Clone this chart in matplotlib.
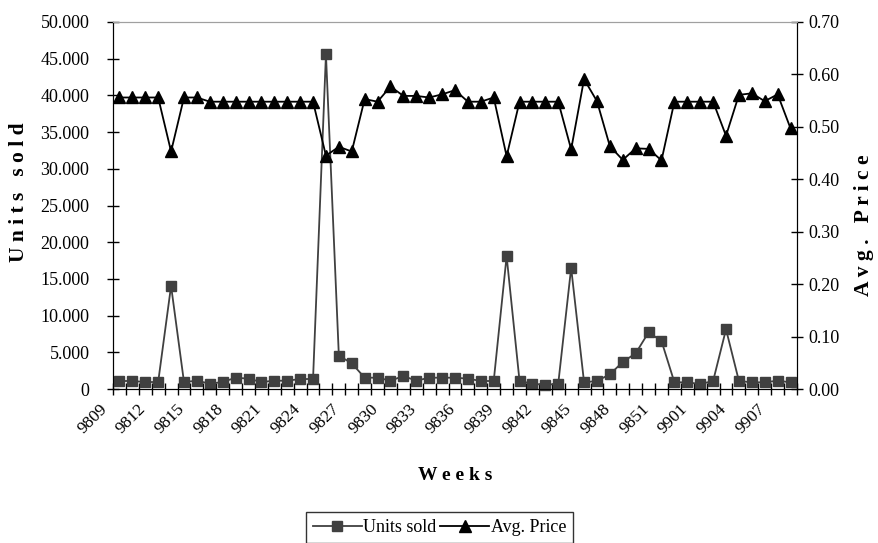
import matplotlib
matplotlib.use('Agg')
import matplotlib.pyplot as mpl
import matplotlib.transforms as mtransforms
from matplotlib.ticker import FuncFormatter, FixedLocator
import numpy

weeks = ['9809', '9810', '9811', '9812', '9813', '9814', '9815', '9816', '9817', '9818',
         '9819', '9820', '9821', '9822', '9823', '9824', '9825', '9826', '9827', '9828',
         '9829', '9830', '9831', '9832', '9833', '9834', '9835', '9836', '9837', '9838',
         '9839', '9840', '9841', '9842', '9843', '9844', '9845', '9846', '9847', '9848',
         '9849', '9850', '9851', '9852', '9853', '9901', '9902', '9903', '9904', '9905',
         '9906', '9907', '9908']

units_sold = [1090, 1090, 950, 950, 14050, 950, 1130, 730, 950, 1540,
              1410, 950, 1130, 1130, 1360, 1360, 45600, 4540, 3500, 1540,
              1540, 1130, 1770, 1130, 1540, 1540, 1540, 1410, 1090, 1090,
              18100, 1090, 730, 545, 730, 16500, 910, 1090, 2000, 3680,
              4860, 7720, 6540, 910, 910, 680, 1090, 8130, 1090, 910,
              910, 1130, 910]

avg_price = [0.556, 0.556, 0.556, 0.556, 0.453, 0.556, 0.556, 0.548, 0.548, 0.548,
             0.548, 0.548, 0.548, 0.548, 0.548, 0.548, 0.445, 0.462, 0.453, 0.553,
             0.548, 0.577, 0.559, 0.559, 0.556, 0.562, 0.570, 0.548, 0.548, 0.556,
             0.444, 0.548, 0.548, 0.548, 0.548, 0.457, 0.591, 0.549, 0.463, 0.437,
             0.459, 0.458, 0.436, 0.548, 0.548, 0.548, 0.548, 0.483, 0.561, 0.564,
             0.549, 0.562, 0.497]

label_step = 3

mpl.rcParams['font.family'] = ['Liberation Serif', 'DejaVu Serif']
mpl.rcParams['font.size'] = 13


def thousands_dot(v, pos):
    if v == 0:
        return '0'
    return '{:,.0f}'.format(v).replace(',', '.')


def style_crossing_ticks(ax, pad):
    ax.tick_params(axis='y', which='major', direction='inout', length=8, width=1.0,
                   colors='black', labelsize=13, pad=pad)


fig = mpl.figure(figsize=(8.79, 5.43), dpi=100)
ax = fig.add_axes([113 / 879, 1 - 389 / 543, (797 - 113) / 879, (389 - 22) / 543])
ax2 = ax.twinx()

x = numpy.arange(len(weeks))
ax.plot(x, units_sold, color='#404040', lw=1.3, marker='s', ms=6.5,
        mfc='#404040', mec='#404040', label='Units sold', clip_on=False, zorder=3)
ax2.plot(x, avg_price, color='black', lw=1.3, marker='^', ms=9,
         mfc='black', mec='black', label='Avg. Price', clip_on=False, zorder=3)

ax.set_xlim(-0.5, len(weeks) - 0.5)
ax.set_ylim(0, 50000)
ax2.set_ylim(0, 0.70)
ax.set_yticks(numpy.arange(0, 50001, 5000))
ax2.set_yticks(numpy.arange(0, 0.701, 0.10))
ax.yaxis.set_major_formatter(FuncFormatter(thousands_dot))
ax2.yaxis.set_major_formatter(FuncFormatter(lambda v, p: '{:.2f}'.format(v)))

# tick marks between categories, labels every third week
ax.xaxis.set_major_locator(FixedLocator(numpy.arange(-0.5, len(weeks), 1.0)))
ax.xaxis.set_major_formatter(FuncFormatter(lambda v, p: ''))
ax.tick_params(axis='x', which='major', direction='inout', length=8, width=1.0)
ax.tick_params(axis='x', which='minor', length=0, pad=0)
label_pos = x[::label_step]
ax.xaxis.set_minor_locator(FixedLocator(label_pos))
ax.set_xticklabels([weeks[i] for i in label_pos], minor=True, rotation=45,
                   ha='right', va='top', fontsize=12.5)
shift = mtransforms.ScaledTranslation(-9 / 100, -12 / 100, fig.dpi_scale_trans)
for lbl in ax.xaxis.get_minorticklabels():
    lbl.set_transform(lbl.get_transform() + shift)

style_crossing_ticks(ax, 13)
style_crossing_ticks(ax2, 4)

for side in ('left', 'right', 'bottom'):
    ax2.spines[side].set_color('black')
    ax.spines[side].set_color('black')
ax.spines['top'].set_color('#a0a0a0')
ax2.spines['top'].set_color('#a0a0a0')

ax.set_ylabel('U n i t s   s o l d', fontsize=15.5, fontweight='bold', va='center')
ax.yaxis.set_label_coords(-0.138, 0.537)
ax2.set_ylabel('A v g .   P r i c e', fontsize=15.5, fontweight='bold', va='center')
ax2.yaxis.set_label_coords(1.098, 0.447)
ax.set_xlabel('W e e k s', fontsize=14, fontweight='bold', labelpad=22)

h1, l1 = ax.get_legend_handles_labels()
h2, l2 = ax2.get_legend_handles_labels()
leg = fig.legend(h1 + h2, l1 + l2, loc='upper center', bbox_to_anchor=(0.5, 1 - 512 / 543),
                 ncol=2, frameon=True, fancybox=False, edgecolor='black',
                 fontsize=13, handlelength=2.7, columnspacing=0.2, handletextpad=0.1,
                 borderpad=0.4, borderaxespad=0.0)
leg.get_frame().set_linewidth(1.0)

fig.savefig('out.png', dpi=100)
